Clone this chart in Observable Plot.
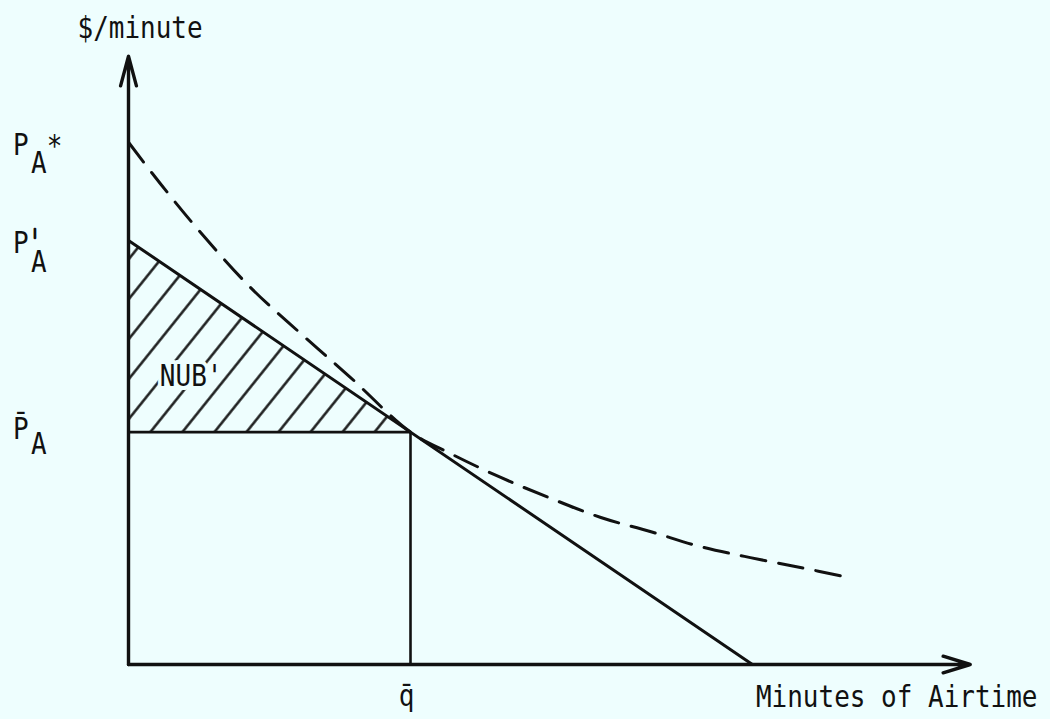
<!DOCTYPE html>
<html>
<head>
<meta charset="utf-8">
<script src="https://cdn.jsdelivr.net/npm/d3@7"></script>
<script src="https://cdn.jsdelivr.net/npm/@observablehq/plot@0.6"></script>
<style>
  html, body { margin: 0; padding: 0; background: #eefefe; }
  #chart { width: 1050px; height: 719px; }
</style>
</head>
<body>
<div id="chart"></div>
<script>
// ---- data (abstract units: minutes of airtime, $/minute) ----
const priceLabels = ["P_A*", "P'_A", "P\u0304_A"];
const priceValues = [90, 73, 40];          // P_A*, P'_A, P̄_A
const qBar = 40;                            // q̄
const pBar = 40;                            // P̄_A
const demandX = [0, 88.5];                  // solid demand line
const demandY = [73, 0];
const dashedX = [0, 4.5, 10.2, 17.3, 24.4, 31.5, 40, 45.7, 52.8, 59.9, 67.0, 74.0, 81.1, 88.2, 95.3, 101.7];
const dashedY = [89.9, 82.8, 74.4, 64.9, 57.0, 49.4, 40, 36.3, 32.2, 28.6, 25.3, 22.9, 20.3, 18.4, 16.7, 15.1];
const xAxisEnd = 119.4;
const yAxisEnd = 104.7;
const axisTitles = ["$/minute", "Minutes of Airtime"];
const qLabel = "q\u0304";
const areaLabel = "NUB'";

const demand = demandX.map((x, i) => ({x, y: demandY[i]}));
const dashed = dashedX.map((x, i) => ({x, y: dashedY[i]}));
const levels = priceLabels.map((label, i) => ({label, value: priceValues[i]}));
// hatched triangle: between P̄ and the solid demand line from 0 to q̄
const nub = [{x: 0, y: priceValues[1]}, {x: qBar, y: pBar}];

const ink = "#111";
const bg = "#eefefe";
const fs = 26;

function priceLabel(d, dyP, dyA, extra) {
  const marks = [
    Plot.text([d], {x: () => 0, y: "value", text: dd => dd.label.startsWith("P\u0304") ? "P\u0304" : "P",
      textAnchor: "start", lineAnchor: "bottom", dx: -115.5, dy: dyP, fontSize: fs, fill: ink}),
    Plot.text([d], {x: () => 0, y: "value", text: () => "A",
      textAnchor: "start", lineAnchor: "bottom", dx: -97.5, dy: dyA, fontSize: fs, fill: ink})
  ];
  if (extra) marks.push(Plot.text([d], {x: () => 0, y: "value", text: () => extra.t,
      textAnchor: "middle", lineAnchor: "bottom", dx: extra.dx, dy: extra.dy,
      fontSize: extra.fs || fs, fill: ink, stroke: extra.stroke ? ink : undefined,
      strokeWidth: extra.stroke || undefined}));
  return marks;
}

const chart = Plot.plot({
  width: 1050,
  height: 719,
  marginLeft: 128,
  marginRight: 76,
  marginTop: 25,
  marginBottom: 55,
  x: {domain: [0, 120], axis: null},
  y: {domain: [0, 110], axis: null},
  style: {background: bg, fontFamily: "DejaVu Sans Mono", fontSize: fs + "px", color: ink},
  marks: [
    // hatched area NUB'
    Plot.areaY(nub, {x: "x", y1: () => pBar, y2: "y", fill: "url(#hatch)"}),
    // P̄ horizontal and q̄ vertical
    Plot.ruleY([pBar], {x1: 0, x2: qBar, stroke: ink, strokeWidth: 2.8}),
    Plot.ruleX([qBar], {y1: 0, y2: pBar, stroke: ink, strokeWidth: 2.6}),
    // solid demand line
    Plot.line(demand, {x: "x", y: "y", stroke: ink, strokeWidth: 3}),
    // dashed curve
    Plot.line(dashed, {x: "x", y: "y", curve: "catmull-rom", stroke: ink, strokeWidth: 3,
      strokeDasharray: "25,13"}),
    // axes with arrows
    Plot.arrow([{x1: 0, y1: 0, x2: 0, y2: yAxisEnd}], {x1: "x1", y1: "y1", x2: "x2", y2: "y2",
      stroke: ink, strokeWidth: 3.4, headLength: 13.5, headAngle: 30}),
    Plot.arrow([{x1: 0, y1: 0, x2: xAxisEnd, y2: 0}], {x1: "x1", y1: "y1", x2: "x2", y2: "y2",
      stroke: ink, strokeWidth: 3.4, headLength: 12.5, headAngle: 34}),
    // axis titles
    Plot.text([axisTitles[0]], {frameAnchor: "top-left", textAnchor: "start", lineAnchor: "bottom",
      dx: -51, dy: 12, fontSize: fs, fill: ink}),
    Plot.text([axisTitles[1]], {frameAnchor: "bottom-right", textAnchor: "end", lineAnchor: "bottom",
      dx: 63, dy: 42, fontSize: fs, fill: ink}),
    // q̄ label
    Plot.text([qBar], {x: d => d, y: () => 0, text: () => qLabel, textAnchor: "middle", lineAnchor: "bottom",
      dx: -4, dy: 41, fontSize: fs, fill: ink}),
    // price labels
    ...priceLabel(levels[0], 13, 31, {t: "*", dx: -74, dy: 14}),
    ...priceLabel(levels[1], 12.5, 31.5, {t: "|", dx: -93.5, dy: -4.5, fs: 8, stroke: 2}),
    ...priceLabel(levels[2], 7, 22),
    // NUB' label
    Plot.text([areaLabel], {x: () => 4.45, y: () => 48, textAnchor: "start", lineAnchor: "bottom",
      fontSize: fs, fill: ink, stroke: bg, strokeWidth: 7})
  ]
});

// hatch pattern definition
const defs = d3.select(chart).insert("defs", ":first-child");
const pat = defs.append("pattern")
  .attr("id", "hatch")
  .attr("patternUnits", "userSpaceOnUse")
  .attr("width", 25)
  .attr("height", 25)
  .attr("patternTransform", "rotate(38.7)");
pat.append("line")
  .attr("x1", 12.5).attr("y1", -2).attr("x2", 12.5).attr("y2", 27)
  .attr("stroke", ink).attr("stroke-width", 2.4);

// typewriter-like tall letters: stretch text vertically about its baseline
d3.select(chart).selectAll("text").each(function() {
  const t = this.getAttribute("transform");
  this.setAttribute("transform", (t ? t + " " : "") + "scale(1,1.15)");
});

document.getElementById("chart").appendChild(chart);
</script>
</body>
</html>
